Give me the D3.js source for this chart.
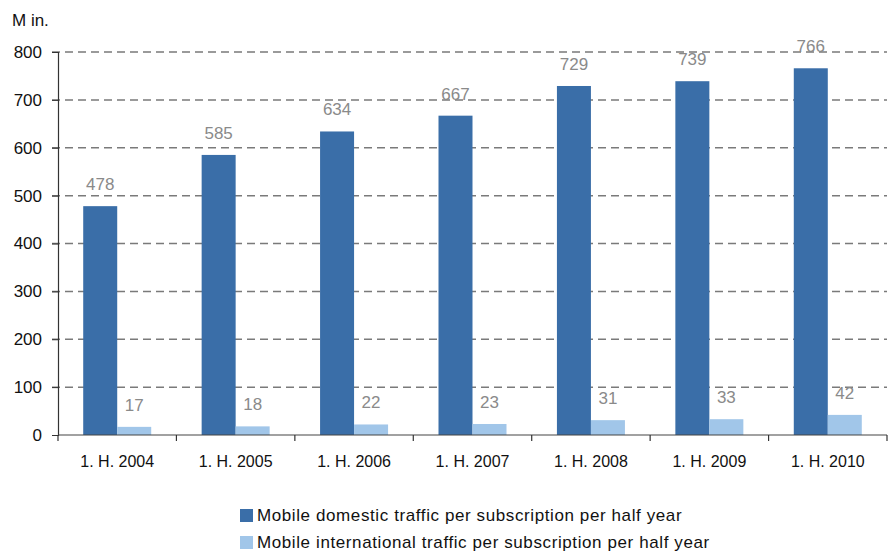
<!DOCTYPE html>
<html>
<head>
<meta charset="utf-8">
<script src="https://cdn.jsdelivr.net/npm/d3@7/dist/d3.min.js"></script>
<style>
  html, body { margin: 0; padding: 0; background: #fff; }
  svg { display: block; font-family: "Liberation Sans", Arial, sans-serif; }
</style>
</head>
<body>
<svg id="chart" width="888" height="553"></svg>
<script>
// Half-year periods and traffic per subscription (minutes)
const categories = ["1. H. 2004", "1. H. 2005", "1. H. 2006", "1. H. 2007", "1. H. 2008", "1. H. 2009", "1. H. 2010"];
const domestic = [478, 585, 634, 667, 729, 739, 766];
const international = [17, 18, 22, 23, 31, 33, 42];
const seriesNames = [
  "Mobile domestic traffic per subscription per half year",
  "Mobile international traffic per subscription per half year"
];
const yTicks = [0, 100, 200, 300, 400, 500, 600, 700, 800];
const unitLabel = "M in.";

const colors = ["#3a6ea8", "#a1c6e9"];

const svg = d3.select("#chart");
const margin = { left: 58, right: 1, top: 52, bottom: 118 };
const width = 888 - margin.left - margin.right;
const height = 553 - margin.top - margin.bottom;

const g = svg.append("g").attr("transform", `translate(${margin.left},${margin.top})`);

const x = d3.scaleBand().domain(categories).range([0, width]).paddingInner(0).paddingOuter(0);
const y = d3.scaleLinear().domain([0, 800]).range([height, 0]);

// dashed gridlines
g.selectAll(".grid").data(yTicks.filter(d => d > 0)).enter().append("line")
  .attr("x1", -6).attr("x2", width)
  .attr("y1", d => y(d)).attr("y2", d => y(d))
  .attr("stroke", "#7a7a7a").attr("stroke-width", 1.5)
  .attr("stroke-dasharray", "8,5");

// y axis
const yAxis = g.append("g").call(d3.axisLeft(y).tickValues(yTicks).tickSize(6).tickPadding(10));
yAxis.select(".domain").attr("stroke", "#333").attr("stroke-width", 1.2);
yAxis.selectAll(".tick line").attr("stroke", "#333");
yAxis.selectAll("text").attr("font-size", 17).attr("fill", "#111")
  .attr("font-family", "Liberation Sans, Arial, sans-serif");

// bars
const barW = 34;
const groups = g.selectAll(".cat").data(categories).enter().append("g")
  .attr("transform", d => `translate(${x(d) + x.bandwidth() / 2},0)`);

groups.append("rect")
  .attr("x", -barW).attr("width", barW)
  .attr("y", (d, i) => y(domestic[i]))
  .attr("height", (d, i) => height - y(domestic[i]))
  .attr("fill", colors[0]);

groups.append("rect")
  .attr("x", 0).attr("width", barW)
  .attr("y", (d, i) => y(international[i]))
  .attr("height", (d, i) => height - y(international[i]))
  .attr("fill", colors[1]);

// value labels
const labelGap = 16;
groups.append("text")
  .attr("x", -barW / 2)
  .attr("y", (d, i) => y(domestic[i]) - labelGap)
  .attr("text-anchor", "middle").attr("font-size", 17).attr("fill", "#8a8a8a")
  .text((d, i) => domestic[i]);

groups.append("text")
  .attr("x", barW / 2)
  .attr("y", (d, i) => y(international[i]) - labelGap)
  .attr("text-anchor", "middle").attr("font-size", 17).attr("fill", "#8a8a8a")
  .text((d, i) => international[i]);

// x axis
const xAxis = g.append("g").attr("transform", `translate(0,${height})`)
  .call(d3.axisBottom(x).tickSize(0).tickPadding(21));
xAxis.select(".domain").remove();
xAxis.selectAll("text").attr("font-size", 16).attr("fill", "#111")
  .attr("font-family", "Liberation Sans, Arial, sans-serif");
g.append("line").attr("x1", 0).attr("x2", width).attr("y1", height).attr("y2", height)
  .attr("stroke", "#444").attr("stroke-width", 1.2);
// category boundary ticks
g.selectAll(".bt").data(d3.range(categories.length + 1)).enter().append("line")
  .attr("x1", i => i * x.step()).attr("x2", i => i * x.step())
  .attr("y1", height).attr("y2", height + 6)
  .attr("stroke", "#333").attr("stroke-width", 1.2);

// unit label
svg.append("text").attr("x", 12).attr("y", 26).attr("font-size", 17).attr("fill", "#111")
  .text(unitLabel);

// legend
const legend = svg.append("g").attr("transform", "translate(240,508)");
seriesNames.forEach((name, i) => {
  const row = legend.append("g").attr("transform", `translate(0,${i * 27})`);
  row.append("rect").attr("y", 1).attr("width", 13).attr("height", 13).attr("fill", colors[i]);
  row.append("text").attr("x", 17).attr("y", 13).attr("font-size", 17)
    .attr("letter-spacing", "0.6px").attr("fill", "#111").text(name);
});
</script>
</body>
</html>
